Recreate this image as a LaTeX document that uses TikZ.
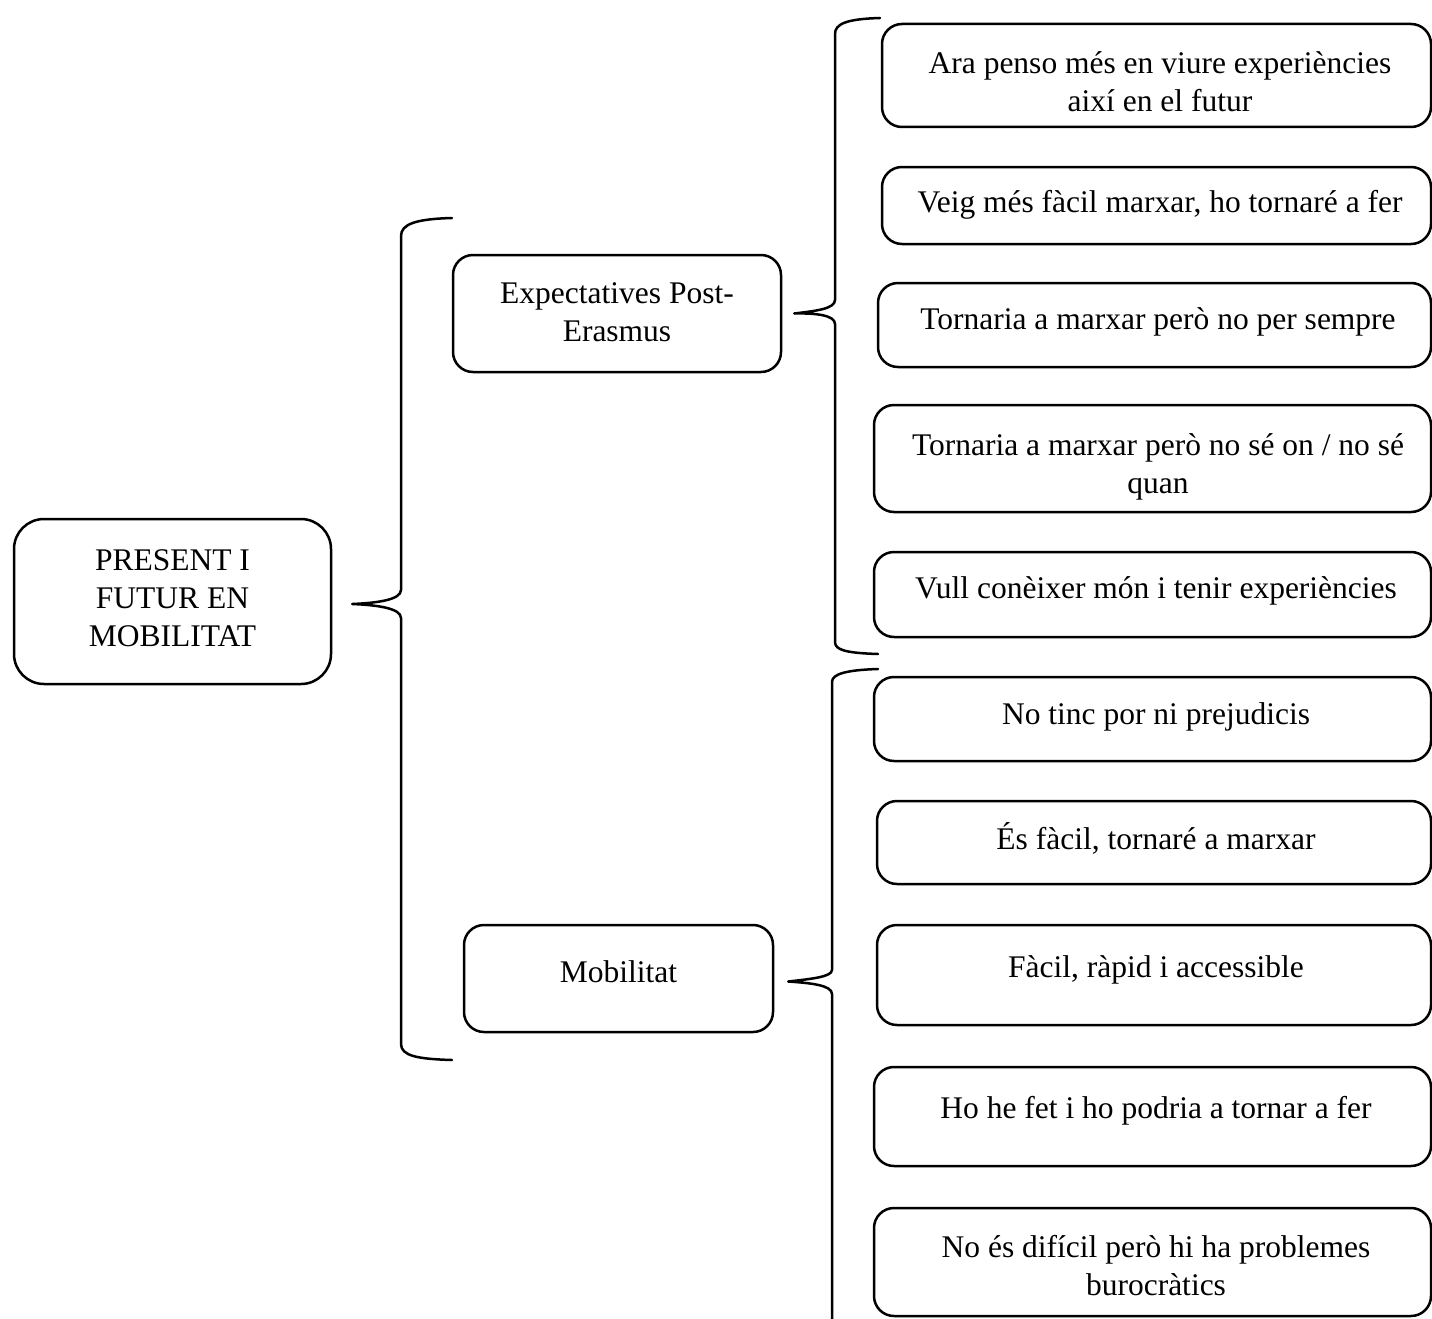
\documentclass[tikz,border=0pt]{standalone}
\usepackage{fontspec}
\setmainfont{Liberation Serif}
\usetikzlibrary{calc}
\begin{document}
\begin{tikzpicture}[x=1pt,y=-1pt,
  box/.style={draw=black, line width=2.5pt, rounded corners=20pt, inner sep=0pt},
  bigbox/.style={box, rounded corners=30pt},
  txt/.style={align=center, inner sep=0pt, font=\fontsize{31.5}{38}\selectfont},
  brace/.style={draw=black, line width=2.5pt, line cap=round, line join=round}]
\useasboundingbox (0,0) rectangle (1432,1319);
\clip (0,0) rectangle (1432,1319);
\fill[white] (0,0) rectangle (1432,1319);

% main box
\node[bigbox, minimum width=317pt, minimum height=165pt] (main) at (172.5,601.5) {};
\node[txt] (maint) at (172.5,598) {PRESENT I\\FUTUR EN\\MOBILITAT};

% second level
\node[box, minimum width=328pt, minimum height=117pt] (exp) at (617,313.5) {};
\node[txt] (expt) at (617,312.5) {Expectatives Post-\\Erasmus};
\node[box, minimum width=309pt, minimum height=107pt] (mob) at (618.5,978.5) {};
\node[txt] (mobt) at (618.5,971.5) {Mobilitat};

% right boxes (group 1)
\node[box, minimum width=549pt, minimum height=103pt] (r1) at (1156.5,75.5) {};
\node[txt] at (1160,81.5) {Ara penso més en viure experiències\\així en el futur};
\node[box, minimum width=549pt, minimum height=77pt] (r2) at (1156.5,205.5) {};
\node[txt] at (1160,205) {Veig més fàcil marxar, ho tornaré a fer};
\node[box, minimum width=553pt, minimum height=84pt] (r3) at (1154.5,325) {};
\node[txt] at (1158,322) {Tornaria a marxar però no per sempre};
\node[box, minimum width=557pt, minimum height=107pt] (r4) at (1152.5,458.5) {};
\node[txt] at (1158,467) {Tornaria a marxar però no sé on / no sé\\quan};
\node[box, minimum width=557pt, minimum height=85pt] (r5) at (1152.5,594.5) {};
\node[txt] at (1156,591) {Vull conèixer món i tenir experiències};

% right boxes (group 2)
\node[box, minimum width=557pt, minimum height=84pt] (s1) at (1152.5,719) {};
\node[txt] at (1156,716.5) {No tinc por ni prejudicis};
\node[box, minimum width=554pt, minimum height=83pt] (s2) at (1154,842.5) {};
\node[txt] at (1156,838) {És fàcil, tornaré a marxar};
\node[box, minimum width=554pt, minimum height=100pt] (s3) at (1154,975) {};
\node[txt] at (1156,969.5) {Fàcil, ràpid i accessible};
\node[box, minimum width=557pt, minimum height=99pt] (s4) at (1152.5,1116.5) {};
\node[txt] at (1156,1110.5) {Ho he fet i ho podria a tornar a fer};
\node[box, minimum width=557pt, minimum height=108pt] (s5) at (1152.5,1262) {};
\node[txt] at (1156,1265.5) {No és difícil però hi ha problemes\\burocràtics};

% braces
\coordinate (t0) at ([xshift=20pt,yshift=-2.5pt]main.east);
\coordinate (t1) at ([xshift=12pt]exp.east);
\coordinate (t2) at ([xshift=14pt,yshift=-3pt]mob.east);

\draw[brace] (452,218) .. controls (416,219) and (401,224) .. (401,236)
  -- (401,590) .. controls (401,600) and (376,603) .. (t0)
  .. controls (376,605) and (401,608) .. (401,618)
  -- (401,1044) .. controls (401,1056) and (418,1059) .. (452,1060);

\draw[brace] (880,18) .. controls (846,19) and (835,24) .. (835,34)
  -- (835,300) .. controls (835,309) and (815,311) .. (t1)
  .. controls (815,313) and (835,315) .. (835,324)
  -- (835,642) .. controls (835,650) and (846,653) .. (878,654);

\draw[brace] (878,669) .. controls (846,670) and (832,674) .. (832,682)
  -- (832,970) .. controls (832,977) and (810,979) .. (t2)
  .. controls (810,983) and (832,985) .. (832,994)
  -- (832,1340);
\end{tikzpicture}
\end{document}
